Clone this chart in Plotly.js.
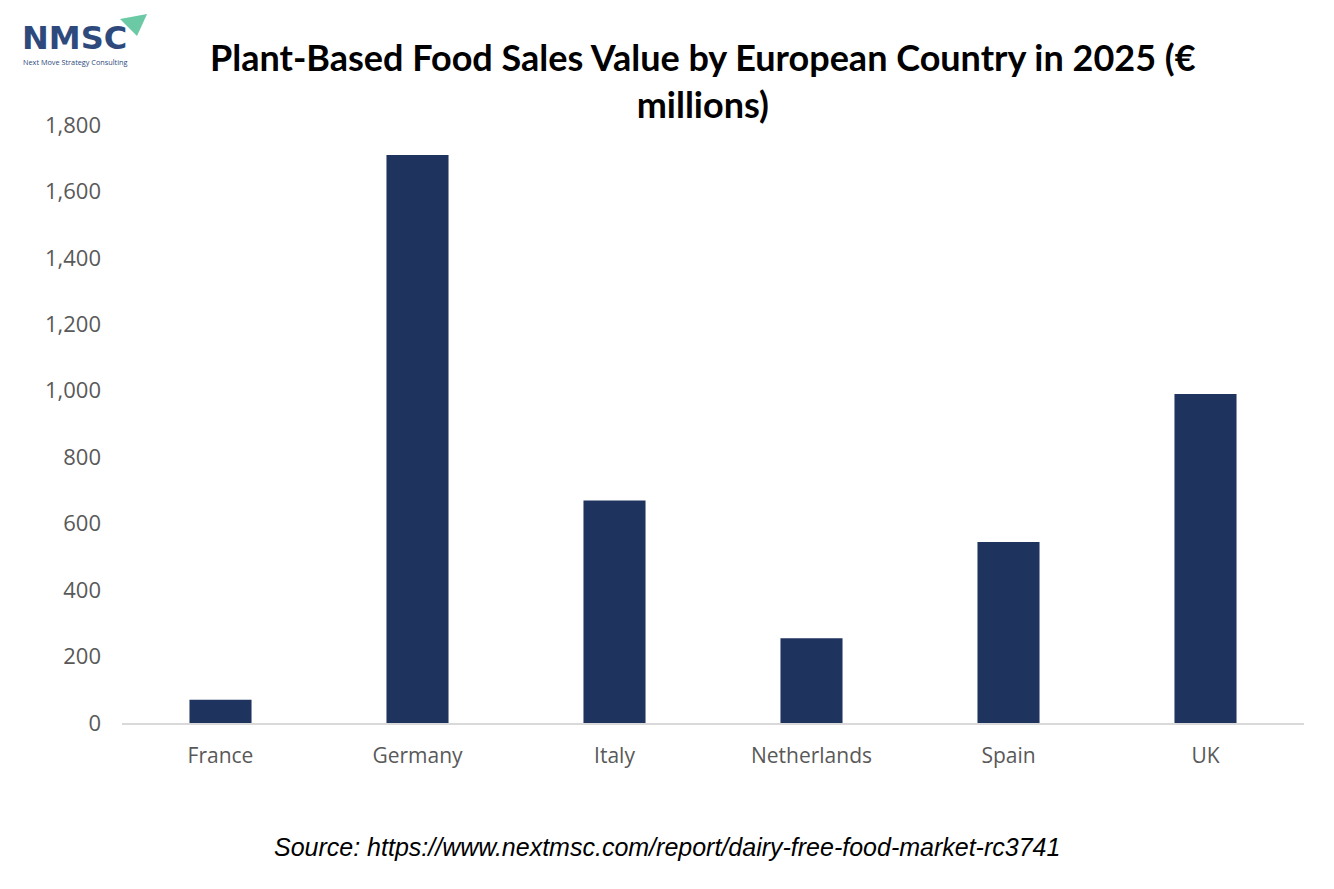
<!DOCTYPE html>
<html>
<head>
<meta charset="utf-8">
<script src="https://cdn.plot.ly/plotly-3.0.1.min.js"></script>
<style>html,body{margin:0;padding:0;background:#fff;}#chart{width:1334px;height:889px;}</style>
</head>
<body>
<div id="chart"></div>
<script>
const countries = ["France", "Germany", "Italy", "Netherlands", "Spain", "UK"];
const salesValues = [70, 1710, 670, 255, 545, 990];
const yTickVals = [0, 200, 400, 600, 800, 1000, 1200, 1400, 1600, 1800];
const yTickText = ["0", "200", "400", "600", "800", "1,000", "1,200", "1,400", "1,600", "1,800"];
const chartTitle = "Plant-Based Food Sales Value by European Country in 2025 (€<br>millions)";
const sourceText = "Source: https://www.nextmsc.com/report/dairy-free-food-market-rc3741";

const trace = {
  type: "bar",
  x: countries,
  y: salesValues,
  marker: {color: "#1F335F"},
  hoverinfo: "x+y"
};

const layout = {
  width: 1334,
  height: 889,
  paper_bgcolor: "#ffffff",
  plot_bgcolor: "#ffffff",
  margin: {l: 122, r: 30, t: 125, b: 166},
  bargap: 0.685,
  showlegend: false,
  xaxis: {
    type: "category",
    showgrid: false,
    showline: true,
    linecolor: "#D9D9D9",
    linewidth: 1.5,
    ticks: "",
    tickfont: {family: "'Open Sans', Lato, sans-serif", size: 21, color: "#595959"},
    ticklabelstandoff: 13
  },
  yaxis: {
    range: [0, 1800],
    tickvals: yTickVals,
    ticktext: yTickText,
    showgrid: false,
    zeroline: false,
    showline: false,
    ticks: "",
    tickfont: {family: "'Open Sans', Lato, sans-serif", size: 22, color: "#595959"},
    ticklabelstandoff: 20
  },
  shapes: [
    {type: "path", xref: "paper", yref: "paper",
     path: "M -0.0017 1.1773 L 0.0212 1.1856 L 0.0127 1.1488 Z",
     fillcolor: "#6CC9A5", line: {width: 0}}
  ],
  annotations: [
    {text: "<b>" + chartTitle + "</b>", xref: "paper", yref: "paper", x: 0.4915, y: 1.0744,
     xanchor: "center", yanchor: "middle", showarrow: false, align: "center",
     font: {family: "Lato, 'Open Sans', sans-serif", size: 36, color: "#000000"}},
    {text: "<b>NMSC</b>", xref: "paper", yref: "paper", x: -0.0863, y: 1.1463,
     xanchor: "left", yanchor: "middle", showarrow: false,
     font: {family: "'DejaVu Sans', sans-serif", size: 32, color: "#2E4A7D"}},
    {text: "Next Move Strategy Consulting", xref: "paper", yref: "paper", x: -0.0854, y: 1.1054,
     xanchor: "left", yanchor: "middle", showarrow: false,
     font: {family: "'Open Sans', sans-serif", size: 7.3, color: "#2E4A7D"}},
    {text: "<i>" + sourceText + "</i>",
     xref: "paper", yref: "paper", x: 0.461, y: -0.2074, xanchor: "center", yanchor: "middle",
     showarrow: false,
     font: {family: "'Liberation Sans', Arial, sans-serif", size: 25, color: "#000000"}}
  ]
};

Plotly.newPlot("chart", [trace], layout, {displayModeBar: false, staticPlot: true});
</script>
</body>
</html>
